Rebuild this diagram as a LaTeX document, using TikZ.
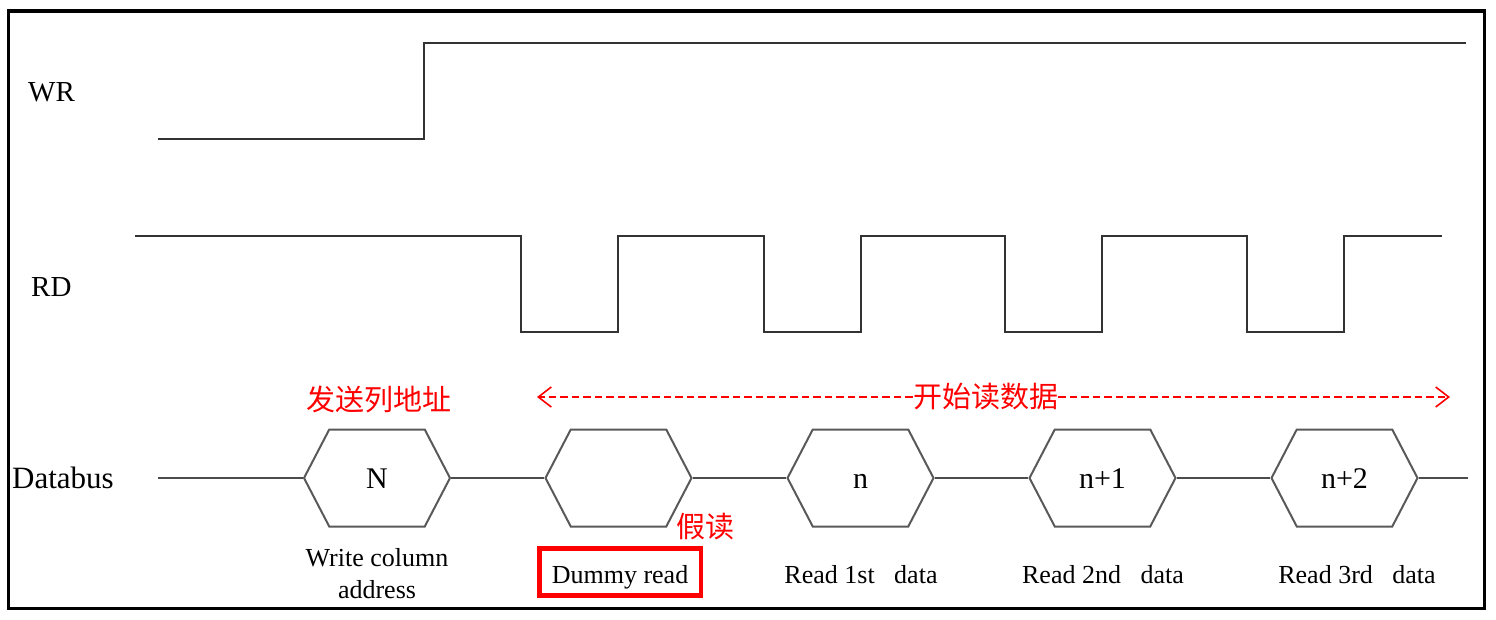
\documentclass[tikz,border=0pt]{standalone}
\usepackage{fontspec}
\setmainfont{Liberation Serif}
\newfontfamily\cjk{Noto Sans CJK SC}
\usetikzlibrary{shapes.symbols,arrows.meta}

\begin{document}
\begin{tikzpicture}
    [
        x=1pt, y=-1pt,
        wave/.style={draw=black!80, line width=2,},
        bus/.style={draw=black!70, line width=2,},
        hexa/.style={signal, signal to=west and east, signal pointer angle=125, draw=black!65, line width=2, minimum width=146pt, minimum height=97pt, inner sep=0pt, text height=20pt, text depth=0pt, font=\fontsize{30}{30}\selectfont,},
        lbl/.style={anchor=base west, inner sep=0pt, font=\fontsize{29}{29}\selectfont,},
        note/.style={anchor=base, font=\fontsize{26}{32}\selectfont,},
        cn/.style={text=red, inner sep=0pt, font=\cjk\fontsize{29}{29}\selectfont,},
        rline/.style={draw=red, line width=2.2, dash pattern=on 7.5pt off 4pt,},
        tip/.style={-{Straight Barb[length=13pt, width=20pt, line width=1.6pt]},},
    ]
    \useasboundingbox (0,0) rectangle (1496,619);
    \draw [line width=3.5] (8.5,11) rectangle (1484.5,608.5);

    % signal names
    \node (wr) at (28,101)  [lbl] {WR};
    \node (rd) at (31,296)  [lbl] {RD};
    \node (db) at (12,488)  [lbl, font=\fontsize{31}{31}\selectfont] {Databus};

    % wr and rd
    \draw [wave] (158,139) -- (424,139) -- (424,43) -- (1466,43);
    \draw [wave] (135,236) \foreach \t in {521,764,1005,1247} { -- (\t,236) -- (\t,332) -- (\t+97,332) -- (\t+97,236) } -- (1442,236);

    % databus
    \coordinate (b0) at (158,478);
    \coordinate (b1) at (1468,478);
    \node (hN) at (377,478)    [hexa] {N};
    \node (hD) at (618.5,478)  [hexa] {};
    \node (hn) at (860.5,478)  [hexa] {n};
    \node (h1) at (1102.5,478) [hexa] {n+1};
    \node (h2) at (1344.5,478) [hexa] {n+2};
    \draw [bus] (b0) -- (hN.west);
    \draw [bus] (hN.east) -- (hD.west);
    \draw [bus] (hD.east) -- (hn.west);
    \draw [bus] (hn.east) -- (h1.west);
    \draw [bus] (h1.east) -- (h2.west);
    \draw [bus] (h2.east) -- (b1);

    % labels below
    \node (wc) at (377,574)  [note, anchor=center, align=center] {Write column\\address};
    \node (dr) at (620,583)  [note, draw=red, line width=4.5, minimum width=161.5pt, minimum height=47pt, text height=24pt, text depth=2pt] {Dummy read};
    \node (r1) at (861,583)  [note] {Read 1st~~~data};
    \node (r2) at (1103,583) [note] {Read 2nd~~~data};
    \node (r3) at (1357,583) [note] {Read 3rd~~~data};

    % red notes
    \node (cs) at (378.5,399) [cn] {发送列地址};
    \node (cj) at (705,527)   [cn] {假读};
    \node (cr) at (985.5,397) [cn] {开始读数据};
    \coordinate (ra) at (537,397);
    \coordinate (rb) at (1450,397);
    \draw [rline, tip] (cr.west) -- (ra);
    \draw [rline, tip] (cr.east) -- (rb);
\end{tikzpicture}
\end{document}
